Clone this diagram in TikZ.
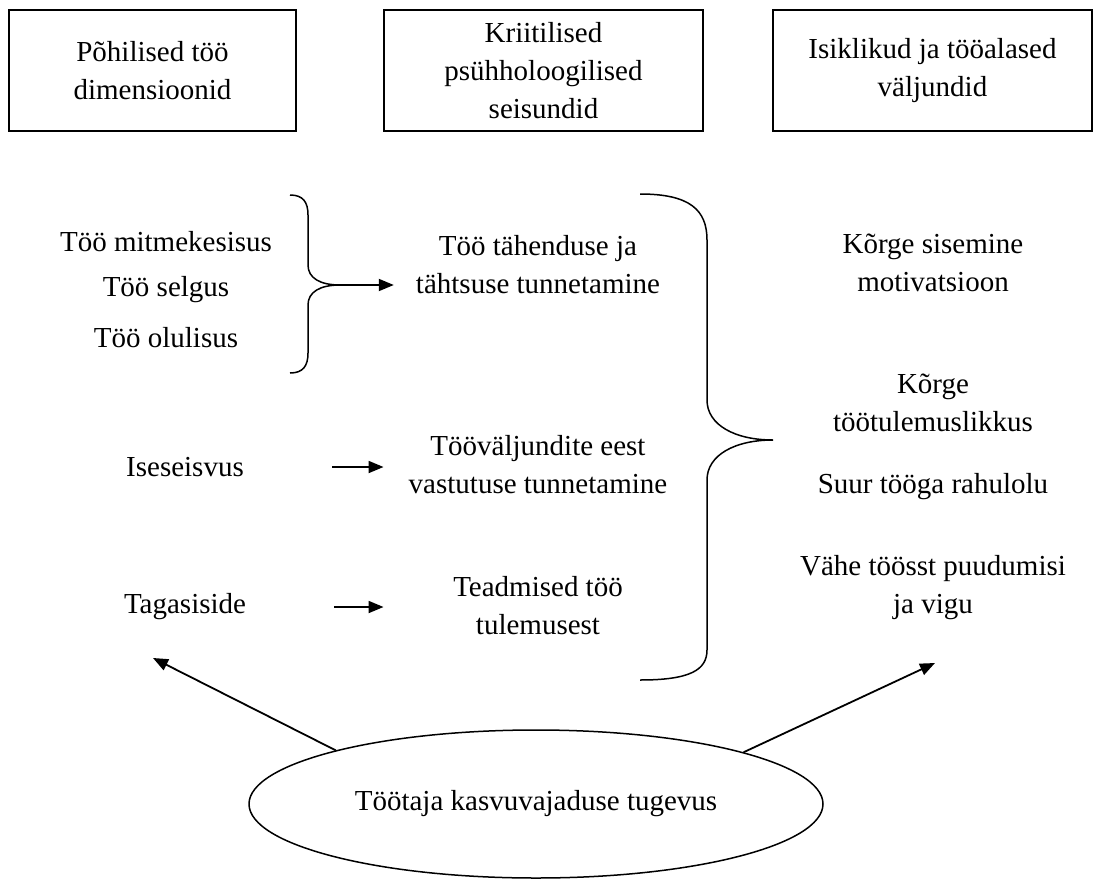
\documentclass[tikz,border=0pt]{standalone}
\usepackage{fontspec}
\setmainfont{Liberation Serif}
\usetikzlibrary{arrows.meta,shapes.geometric}
\tikzstyle{hdr} = [draw=black, line width=1.5pt, align=center, minimum height=121pt, inner sep=0pt]
\tikzstyle{txt} = [align=center, inner sep=0pt]
\tikzstyle{arr} = [-{Triangle[length=15pt,width=12pt]}, line width=1.8pt]
\tikzstyle{brace} = [line width=1.5pt]

\begin{document}
\begin{tikzpicture}[x=1pt,y=-1pt,font=\fontsize{29}{38}\selectfont]
    \useasboundingbox (0,0) rectangle (1094,880);
    % headings
    \node[hdr,minimum width=287pt](h1) at (152.5,70.5){Põhilised töö\\dimensioonid};
    \node[hdr,minimum width=319pt](h2) at (543.5,70.5){Kriitilised\\psühholoogilised\\seisundid};
    \node[hdr,minimum width=319pt](h3) at (932.5,70.5){Isiklikud ja tööalased\\väljundid};
    % left column
    \node[txt](l1) at (166,242){Töö mitmekesisus};
    \node[txt](l2) at (166,290){Töö selgus};
    \node[txt](l3) at (166,338){Töö olulisus};
    \node[txt](l4) at (185,467){Iseseisvus};
    \node[txt](l5) at (185,607){Tagasiside};
    % middle column
    \node[txt](m1) at (538,265){Töö tähenduse ja\\tähtsuse tunnetamine};
    \node[txt](m2) at (538,465){Tööväljundite eest\\vastutuse tunnetamine};
    \node[txt](m3) at (538,606){Teadmised töö\\tulemusest};
    % right column
    \node[txt](r1) at (933,263){Kõrge sisemine\\motivatsioon};
    \node[txt](r2) at (933,403){Kõrge\\töötulemuslikkus};
    \node[txt](r3) at (933,487){Suur tööga rahulolu};
    \node[txt](r4) at (933,588){Vähe töösst puudumisi\\ja vigu};
    % bottom
    \node[ellipse,draw,line width=1.5pt,minimum width=574pt,minimum height=148pt,inner sep=0pt](ell) at (536,804){Töötaja kasvuvajaduse tugevus};
    % braces
    \coordinate (b1) at (340,285);
    \draw[brace] (290,195) .. controls (303,195) and (308,202) .. (308,215) -- (308,265)
        .. controls (308,278) and (320,285) .. (b1)
        .. controls (320,285) and (308,292) .. (308,305) -- (308,353)
        .. controls (308,366) and (303,373) .. (290,373);
    \coordinate (b2) at (773,440);
    \draw[brace] (640,194) .. controls (690,194) and (707,210) .. (707,240) -- (707,400)
        .. controls (707,425) and (735,440) .. (b2)
        .. controls (735,440) and (707,455) .. (707,480) -- (707,650)
        .. controls (707,670) and (690,680) .. (640,680);
    % arrows
    \draw[arr,shorten >=22pt](b1)--(b1 -| m1.west);
    \draw[arr,shorten <=88pt,shorten >=25pt](l4)--(l4 -| m2.west);
    \draw[arr,shorten <=88pt,shorten >=25pt](l5)--(l5 -| m2.west);
    \coordinate (tl) at (153,658);
    \coordinate (tr) at (935,663);
    \draw[arr](ell.165.7)--(tl);
    \draw[arr](ell.14.5)--(tr);
\end{tikzpicture}
\end{document}
